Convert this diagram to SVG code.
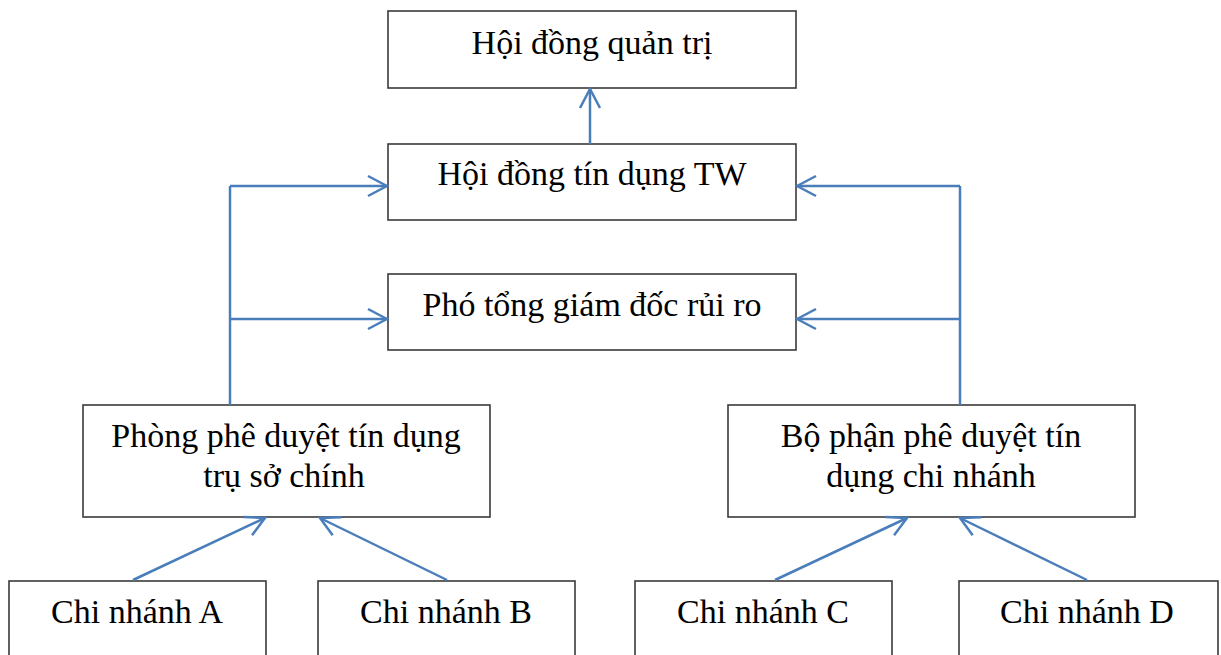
<svg xmlns="http://www.w3.org/2000/svg" width="1221" height="655" viewBox="0 0 1221 655">
<style>
.box{fill:#ffffff;stroke:#3a3a3a;stroke-width:1.6}
.lbl{font-family:"Liberation Serif","Times New Roman",serif;font-size:34px;fill:#000;text-anchor:middle}
.con{stroke:#4a7ebb;stroke-width:2.5;fill:none}
</style>
<defs>
<marker id="arr" viewBox="-21 -12 23 24" refX="0" refY="0" markerWidth="23" markerHeight="24" markerUnits="userSpaceOnUse" orient="auto">
<path d="M-19,-10 L0,0 L-19,10" fill="none" stroke="#4a7ebb" stroke-width="2.5"/>
</marker>
</defs>
<rect width="1221" height="655" fill="#ffffff"/>
<g id="n-hdqt"><rect class="box" x="388" y="11" width="408" height="77"/><text class="lbl" x="592" y="54">Hội đồng quản trị</text></g>
<g id="n-hdtd"><rect class="box" x="388" y="144" width="408" height="76"/><text class="lbl" x="592" y="185">Hội đồng tín dụng TW</text></g>
<g id="n-ptgd"><rect class="box" x="388" y="274" width="408" height="76"/><text class="lbl" x="592" y="316">Phó tổng giám đốc rủi ro</text></g>
<g id="n-ppd"><rect class="box" x="83" y="405" width="407" height="112"/><text class="lbl" x="286" y="447">Phòng phê duyệt tín dụng</text><text class="lbl" x="284" y="487">trụ sở chính</text></g>
<g id="n-bpd"><rect class="box" x="728" y="405" width="407" height="112"/><text class="lbl" x="931" y="447">Bộ phận phê duyệt tín</text><text class="lbl" x="931" y="487">dụng chi nhánh</text></g>
<g id="n-a"><rect class="box" x="9" y="581" width="257" height="90"/><text class="lbl" x="137" y="623">Chi nhánh A</text></g>
<g id="n-b"><rect class="box" x="318" y="581" width="257" height="90"/><text class="lbl" x="446" y="623">Chi nhánh B</text></g>
<g id="n-c"><rect class="box" x="635" y="581" width="257" height="90"/><text class="lbl" x="763" y="623">Chi nhánh C</text></g>
<g id="n-d"><rect class="box" x="959" y="581" width="259" height="90"/><text class="lbl" x="1087" y="623">Chi nhánh D</text></g>
<g id="connectors">
<line class="con" x1="590" y1="144" x2="590" y2="89" marker-end="url(#arr)"/>
<polyline class="con" points="230,405 230,186"/>
<line class="con" x1="230" y1="186" x2="387" y2="186" marker-end="url(#arr)"/>
<line class="con" x1="230" y1="319" x2="387" y2="319" marker-end="url(#arr)"/>
<polyline class="con" points="960,405 960,186"/>
<line class="con" x1="960" y1="186" x2="797" y2="186" marker-end="url(#arr)"/>
<line class="con" x1="960" y1="319" x2="797" y2="319" marker-end="url(#arr)"/>
<line class="con" x1="133" y1="580" x2="265" y2="518" marker-end="url(#arr)"/>
<line class="con" x1="447" y1="580" x2="320" y2="518" marker-end="url(#arr)"/>
<line class="con" x1="775" y1="580" x2="907" y2="518" marker-end="url(#arr)"/>
<line class="con" x1="1087" y1="580" x2="960" y2="518" marker-end="url(#arr)"/>
</g>
</svg>
